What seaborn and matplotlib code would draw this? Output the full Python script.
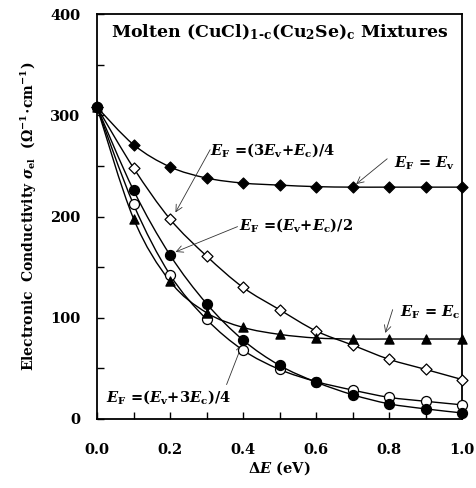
import numpy as np
import pandas as pd
import seaborn as sns
import matplotlib
matplotlib.use("Agg")
import matplotlib.pyplot as plt
from matplotlib.path import Path
from matplotlib.patches import PathPatch

# Energy gap values (eV)
delta_e = [0.0, 0.1, 0.2, 0.3, 0.4, 0.5, 0.6, 0.7, 0.8, 0.9, 1.0]

# Electronic conductivity (Ohm^-1 cm^-1) for each Fermi-level position
sigma_ev = [308, 271, 249, 238, 233, 231, 229.5, 229, 229, 229, 229]
sigma_3ev_ec = [308, 248, 197.5, 161, 130, 108, 87, 73, 59, 49, 39]
sigma_ev_ec = [308, 226, 162, 114, 78, 53, 36.5, 24, 15, 10, 6]
sigma_ev_3ec = [308, 212, 142.5, 98.5, 68, 49, 37, 28.6, 21.4, 17.5, 14]
sigma_ec = [308, 198, 136, 105, 90.5, 83.6, 80, 79, 79, 79, 79]

x_ticks = [0.0, 0.2, 0.4, 0.6, 0.8, 1.0]
y_ticks = [0, 100, 200, 300, 400]

sns.set_theme(style="ticks", rc={
    "text.color": "black", "axes.labelcolor": "black",
    "xtick.color": "black", "ytick.color": "black",
    "axes.edgecolor": "black",
})
plt.rcParams["font.family"] = ["DejaVu Serif"]
plt.rcParams["font.weight"] = "bold"
plt.rcParams["mathtext.fontset"] = "custom"
plt.rcParams["mathtext.rm"] = "DejaVu Serif:weight=bold"
plt.rcParams["mathtext.it"] = "DejaVu Serif:style=italic:weight=bold"
plt.rcParams["mathtext.bf"] = "DejaVu Serif:weight=bold"

fig = plt.figure(figsize=(4.76, 4.88), dpi=100)
ax = fig.add_axes([97 / 476, 1 - 419 / 488, 365 / 476, 405 / 488])


def smooth_path(xs, ys):
    """Catmull-Rom style cubic Bezier path through the points."""
    pts = np.column_stack([xs, ys]).astype(float)
    n = len(pts)
    verts = [pts[0]]
    codes = [Path.MOVETO]
    for i in range(n - 1):
        p0 = pts[i - 1] if i > 0 else pts[i]
        p1 = pts[i]
        p2 = pts[i + 1]
        p3 = pts[i + 2] if i + 2 < n else pts[i + 1]
        c1 = p1 + (p2 - p0) / 6.0
        c2 = p2 - (p3 - p1) / 6.0
        verts += [c1, c2, p2]
        codes += [Path.CURVE4] * 3
    return Path(verts, codes)


# (values, marker, face colour, marker size, stacking order)
series = [
    (sigma_ev, "D", "black", 5.6, 3.0),
    (sigma_3ev_ec, "D", "white", 5.6, 3.1),
    (sigma_ev_3ec, "o", "white", 7.2, 3.2),
    (sigma_ec, "^", "black", 6.6, 3.3),
    (sigma_ev_ec, "o", "black", 7.2, 3.4),
]

for ys, mk, fc, ms, z in series:
    ax.add_patch(PathPatch(smooth_path(delta_e, ys), fill=False,
                           edgecolor="black", lw=1.0, zorder=2))
    df = pd.DataFrame({"dE": delta_e, "sigma": ys})
    sns.scatterplot(data=df, x="dE", y="sigma", ax=ax, marker=mk,
                    s=ms ** 2, color=fc, edgecolor="black", linewidth=0.9,
                    zorder=z, legend=False, clip_on=False)

ax.set_xlim(0, 1.0)
ax.set_ylim(0, 400)
ax.set_xticks(x_ticks)
ax.set_xticks(np.arange(0, 1.01, 0.1), minor=True)
ax.set_yticks(y_ticks)
ax.set_yticks(np.arange(0, 401, 50), minor=True)
ax.set_xticklabels([f"{v:.1f}" for v in x_ticks], fontsize=10.5, fontweight="bold")
ax.set_yticklabels([str(v) for v in y_ticks], fontsize=10.5, fontweight="bold")
ax.tick_params(which="both", direction="in", length=5, width=1, color="black",
               top=False, right=False)
ax.tick_params(axis="x", which="both", pad=17)
ax.tick_params(axis="y", which="both", pad=12)
for sp in ax.spines.values():
    sp.set_linewidth(1.3)
    sp.set_color("black")

ax.set_xlabel(r"$\mathit{\Delta E}$ (eV)", fontsize=10.5, fontweight="bold", labelpad=2)
ax.set_ylabel(r"Electronic  Conductivity $\mathit{\sigma}_{\mathrm{el}}$  "
              r"($\Omega^{\mathrm{-1}}\!\cdot\!\mathrm{cm}^{\mathrm{-1}}$)",
              fontsize=10, fontweight="bold", labelpad=8)

ax.text(0.5, 0.956,
        r"Molten (CuCl)$_{\mathrm{1\text{-}c}}$(Cu$_{\mathrm{2}}$Se)$_{\mathrm{c}}$ Mixtures",
        transform=ax.transAxes, ha="center", va="center",
        fontsize=12.5, fontweight="bold")

arrow = dict(arrowstyle="->", lw=0.6, color="#333333", shrinkA=0, shrinkB=0)
tk = dict(fontsize=10.5, fontweight="bold", va="center", ha="left")

ax.annotate(r"$E_{\mathrm{F}}$ =(3$E_{\mathrm{v}}$+$E_{\mathrm{c}}$)/4",
            xy=(0.21, 203), xytext=(0.31, 266), textcoords="data", **tk)
ax.annotate("", xy=(0.215, 204), xytext=(0.31, 266), arrowprops=arrow)

ax.annotate(r"$E_{\mathrm{F}}$ = $E_{\mathrm{v}}$",
            xy=(0.71, 232), xytext=(0.815, 253), **tk)
ax.annotate("", xy=(0.71, 232), xytext=(0.795, 257), arrowprops=arrow)

ax.annotate(r"$E_{\mathrm{F}}$ =($E_{\mathrm{v}}$+$E_{\mathrm{c}}$)/2",
            xy=(0.21, 166), xytext=(0.39, 192), **tk)
ax.annotate("", xy=(0.215, 165), xytext=(0.385, 190), arrowprops=arrow)

ax.annotate(r"$E_{\mathrm{F}}$ = $E_{\mathrm{c}}$",
            xy=(0.78, 85), xytext=(0.83, 105), **tk)
ax.annotate("", xy=(0.79, 85), xytext=(0.81, 108), arrowprops=arrow)

ax.annotate(r"$E_{\mathrm{F}}$ =($E_{\mathrm{v}}$+3$E_{\mathrm{c}}$)/4",
            xy=(0.40, 73), xytext=(0.025, 22), **tk)
ax.annotate("", xy=(0.398, 74), xytext=(0.355, 34), arrowprops=arrow)

fig.savefig("out.png", dpi=100)
